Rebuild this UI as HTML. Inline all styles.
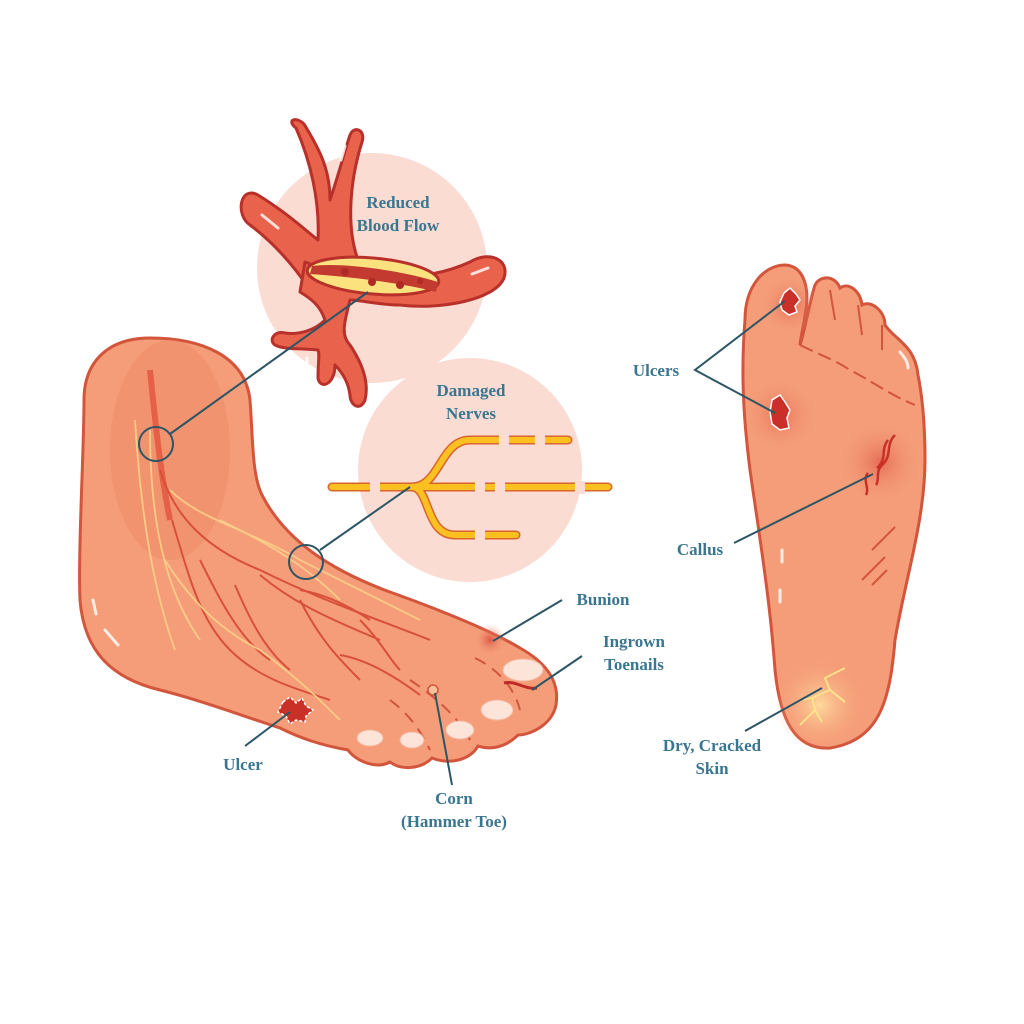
<!DOCTYPE html>
<html><head><meta charset="utf-8">
<style>
html,body{margin:0;padding:0;background:#fff;}
svg{display:block;}
text{font-family:"Liberation Serif",serif;font-weight:bold;fill:#3a7690;font-size:17px;}
</style></head>
<body>
<svg width="1024" height="1024" viewBox="0 0 1024 1024" xmlns="http://www.w3.org/2000/svg">
<defs>
<radialGradient id="redspot"><stop offset="0" stop-color="#d9473a" stop-opacity="0.8"/><stop offset="1" stop-color="#f19a78" stop-opacity="0"/></radialGradient>
<radialGradient id="yel"><stop offset="0" stop-color="#ffe0a0" stop-opacity="0.9"/><stop offset="1" stop-color="#f6a47f" stop-opacity="0"/></radialGradient>
</defs>
<rect width="1024" height="1024" fill="#fff"/>
<circle cx="372" cy="268" r="115" fill="#fbdcd3"/>
<circle cx="470" cy="470" r="112" fill="#fbdcd3"/>

<g stroke="#b8302a" stroke-width="3" fill="#e8624c" stroke-linejoin="round">
<path d="M296 128 C286 120 296 116 304 124 C320 150 330 170 330 200 C340 170 345 150 350 135 C354 125 366 130 362 142 C350 180 345 230 360 265 L310 290 C290 260 270 240 250 225 C235 215 240 185 258 195 C290 215 305 230 318 240 C320 200 310 160 296 128 Z"/>
<path d="M305 262 C350 280 420 285 470 262 C490 250 510 260 504 278 C495 300 440 310 400 305 C380 305 360 300 350 300 C345 320 340 335 350 345 C360 360 370 380 365 400 C360 412 350 405 350 395 C348 380 340 370 335 365 C335 385 320 390 318 378 C318 360 320 355 318 350 C300 348 285 350 275 345 C268 340 275 330 285 333 C300 335 315 330 325 320 C320 305 310 298 300 292 Z"/>
</g>
<ellipse cx="373" cy="276" rx="66" ry="18" fill="#fce27f" stroke="#b8302a" stroke-width="3" transform="rotate(5 373 276)"/>
<path d="M312 266 C340 262 400 270 438 282 L436 292 C400 282 340 276 310 274 Z" fill="#c23a30"/>
<g fill="#b02a25"><circle cx="345" cy="272" r="4"/><circle cx="372" cy="282" r="4"/><circle cx="400" cy="285" r="4"/><circle cx="420" cy="281" r="3"/></g>
<g stroke="#fff" stroke-width="3" stroke-linecap="round" fill="none" opacity="0.8">
<line x1="262" y1="215" x2="278" y2="228"/><line x1="345" y1="146" x2="341" y2="160"/><line x1="472" y1="274" x2="488" y2="268"/><line x1="307" y1="358" x2="307" y2="372"/>
</g>

<g fill="none" stroke-linecap="round">
<g stroke="#d8642e" stroke-width="9">
<path d="M332 487 L608 487"/><path d="M412 487 C440 487 440 440 470 440 L568 440"/><path d="M412 487 C430 487 425 535 455 535 L516 535"/>
</g>
<g stroke="#fcc020" stroke-width="6">
<path d="M332 487 L608 487"/><path d="M412 487 C440 487 440 440 470 440 L568 440"/><path d="M412 487 C430 487 425 535 455 535 L516 535"/>
</g>
<g stroke="#fbdcd3" stroke-width="10" stroke-linecap="butt">
<line x1="375" y1="481" x2="375" y2="494"/><line x1="480" y1="481" x2="480" y2="494"/><line x1="500" y1="481" x2="500" y2="494"/><line x1="580" y1="481" x2="580" y2="494"/>
<line x1="504" y1="434" x2="504" y2="447"/><line x1="540" y1="434" x2="540" y2="447"/><line x1="480" y1="529" x2="480" y2="542"/>
</g>
</g>

<path d="M84 400 C84 360 110 338 150 338 C200 338 245 355 250 400 C253 440 252 475 262 495 C285 540 330 570 390 592 C440 610 490 630 520 648 C545 662 560 680 556 705 C552 725 530 735 518 735 C505 748 490 750 478 746 C470 760 450 765 432 758 C420 770 400 770 390 762 C375 770 355 760 348 750 C320 745 300 738 280 728 C240 715 200 700 160 690 C110 678 84 650 80 600 C78 550 84 450 84 400 Z" fill="#f59d78" stroke="#d2553c" stroke-width="3"/>
<ellipse cx="170" cy="450" rx="60" ry="110" fill="#f08a66" opacity="0.5"/>
<path d="M150 370 C155 420 160 470 170 520" stroke="#e04a34" stroke-width="6" fill="none" opacity="0.7"/>
<g stroke="#d9503a" stroke-width="2" fill="none">
<path d="M160 470 C175 520 210 550 260 570 C320 600 380 620 430 640"/>
<path d="M172 520 C190 580 200 620 230 650 C260 680 300 690 330 700"/>
<path d="M200 560 C220 600 240 640 270 660"/><path d="M235 585 C250 620 265 650 290 670"/>
<path d="M260 575 C290 600 320 615 380 640"/><path d="M300 600 C320 640 340 660 360 680"/>
<path d="M300 590 C330 595 355 610 370 620"/>
<path d="M340 655 C370 660 400 680 420 695"/><path d="M360 620 C380 640 390 660 400 670"/>
</g>
<g stroke="#fbd08a" stroke-width="1.8" fill="none" opacity="0.9">
<path d="M135 420 C140 500 150 580 175 650"/><path d="M150 430 C150 520 165 590 200 640"/>
<path d="M170 490 C200 520 250 530 300 560 C340 580 380 600 420 620"/>
<path d="M165 560 C190 600 220 630 260 650 C300 680 320 700 340 720"/>
<path d="M220 520 C260 540 300 560 340 600"/>
</g>
<g stroke="#fff" stroke-width="3" stroke-linecap="round" opacity="0.8"><line x1="93" y1="600" x2="96" y2="614"/><line x1="105" y1="630" x2="118" y2="645"/></g>
<g stroke="#d2553c" stroke-width="2" fill="none" stroke-dasharray="12 8">
<path d="M410 680 C440 700 460 720 470 740"/><path d="M475 658 C500 670 515 690 520 710"/><path d="M390 700 C410 715 420 730 430 750"/>
</g>
<g fill="#fde4d8" stroke="#f2b8a0" stroke-width="1">
<ellipse cx="370" cy="738" rx="13" ry="8"/><ellipse cx="412" cy="740" rx="12" ry="8"/><ellipse cx="460" cy="730" rx="14" ry="9"/><ellipse cx="497" cy="710" rx="16" ry="10"/><ellipse cx="523" cy="670" rx="20" ry="11"/>
</g>
<path d="M504 683 C515 680 525 690 537 688" stroke="#c02a25" stroke-width="3" fill="none"/>
<circle cx="490" cy="640" r="16" fill="url(#redspot)"/>
<circle cx="433" cy="690" r="5" fill="#f9c09a" stroke="#d2553c" stroke-width="1.5"/>
<path d="M283 702 L290 697 L296 703 L302 698 L306 706 L313 710 L306 716 L305 722 L296 720 L290 724 L286 716 L278 712 Z" fill="#c83028" stroke="#fff" stroke-width="1.5" stroke-dasharray="3 2"/>

<path d="M745 320 C745 285 765 265 785 265 C805 266 810 290 805 315 C803 330 800 340 800 345 C805 330 810 300 815 285 C820 275 835 275 840 288 C848 282 860 290 862 305 C870 300 885 310 885 325 C895 340 915 345 918 375 C922 395 925 420 925 460 C925 520 905 580 895 640 C890 700 880 740 830 748 C795 750 780 720 775 670 C770 600 760 540 750 470 C745 430 740 380 745 320 Z" fill="#f59d78" stroke="#d2553c" stroke-width="3"/>
<g stroke="#d2553c" stroke-width="2" fill="none">
<path d="M800 345 C820 355 835 360 850 370 C870 380 890 395 915 405" stroke-dasharray="14 6"/>
<path d="M830 290 L835 320"/><path d="M858 305 L862 335"/><path d="M882 325 L882 350"/>
<line x1="872" y1="550" x2="895" y2="527"/><line x1="862" y1="580" x2="885" y2="557"/><line x1="872" y1="585" x2="887" y2="570"/>
</g>
<circle cx="790" cy="305" r="30" fill="url(#redspot)" opacity="0.7"/>
<circle cx="780" cy="415" r="38" fill="url(#redspot)" opacity="0.6"/>
<circle cx="880" cy="462" r="42" fill="url(#redspot)" opacity="0.7"/>
<circle cx="820" cy="705" r="45" fill="url(#yel)"/>
<path d="M784 293 L790 288 L796 294 L800 300 L795 306 L797 312 L789 315 L782 310 L780 302 Z" fill="#c83028" stroke="#fff" stroke-width="1.5"/>
<path d="M772 400 L780 395 L785 402 L790 410 L787 418 L789 428 L780 430 L772 424 L770 412 Z" fill="#c83028" stroke="#fff" stroke-width="1.5"/>
<g stroke="#c83028" stroke-width="2.5" fill="none"><path d="M895 435 C885 445 893 455 882 465 C875 472 880 480 876 485"/><path d="M888 440 C880 450 888 458 877 468"/><path d="M868 473 C862 480 870 488 866 495"/></g>
<g stroke="#fce58a" stroke-width="1.8" fill="none"><path d="M800 725 L815 710 L812 698 L830 690 L825 678 L845 668"/><path d="M830 690 L845 702"/><path d="M812 698 L800 700"/><path d="M815 710 L822 722"/></g>
<g stroke="#fff" stroke-width="3" stroke-linecap="round" opacity="0.8"><line x1="782" y1="550" x2="782" y2="562"/><line x1="780" y1="590" x2="780" y2="602"/><path d="M900 352 C905 358 908 362 908 368" fill="none"/></g>

<g stroke="#2c5566" stroke-width="2" fill="none">
<circle cx="156" cy="444" r="17"/>
<line x1="170" y1="434" x2="368" y2="292"/>
<circle cx="306" cy="562" r="17"/>
<line x1="320" y1="550" x2="410" y2="487"/>
<line x1="245" y1="746" x2="290" y2="712"/>
<line x1="493" y1="641" x2="562" y2="600"/>
<line x1="532" y1="690" x2="582" y2="656"/>
<line x1="452" y1="785" x2="435" y2="693"/>
<polyline points="785,301 695,370 775,413"/>
<line x1="734" y1="543" x2="873" y2="474"/>
<line x1="745" y1="731" x2="822" y2="688"/>
</g>

<text x="398" y="208" text-anchor="middle">Reduced</text>
<text x="398" y="231" text-anchor="middle">Blood Flow</text>
<text x="471" y="396" text-anchor="middle">Damaged</text>
<text x="471" y="419" text-anchor="middle">Nerves</text>
<text x="603" y="605" text-anchor="middle">Bunion</text>
<text x="634" y="647" text-anchor="middle">Ingrown</text>
<text x="634" y="670" text-anchor="middle">Toenails</text>
<text x="243" y="770" text-anchor="middle">Ulcer</text>
<text x="454" y="804" text-anchor="middle">Corn</text>
<text x="454" y="827" text-anchor="middle">(Hammer Toe)</text>
<text x="656" y="376" text-anchor="middle">Ulcers</text>
<text x="700" y="555" text-anchor="middle">Callus</text>
<text x="712" y="751" text-anchor="middle">Dry, Cracked</text>
<text x="712" y="774" text-anchor="middle">Skin</text>
</svg>
</body></html>
